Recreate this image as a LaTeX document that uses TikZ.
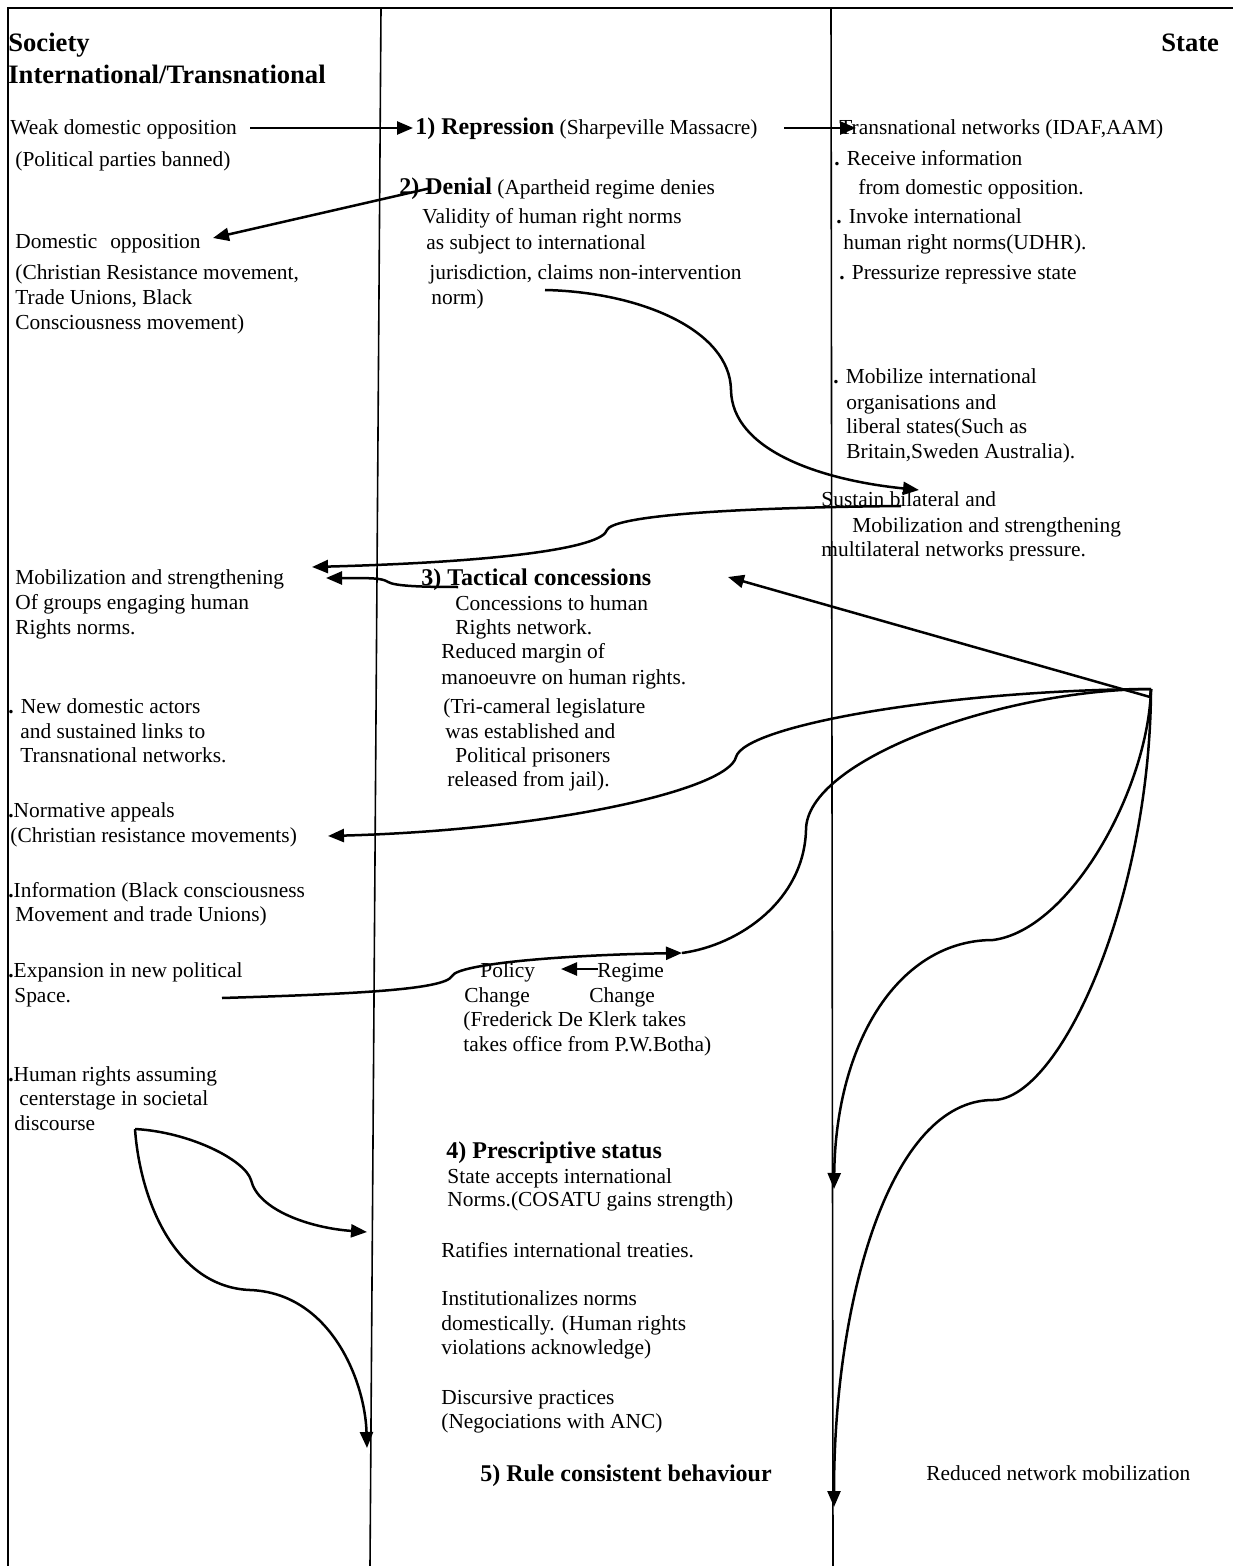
\documentclass[tikz,border=0pt]{standalone}
\usepackage{fontspec}
\setmainfont{Liberation Serif}
\usetikzlibrary{arrows.meta}
\tikzset{
  txt/.style={anchor=base west, inner sep=0pt, font=\fontsize{10.7}{12.5}\selectfont},
  bld/.style={txt, font=\fontsize{12}{14}\selectfont\bfseries},
  hd/.style={txt, font=\fontsize{13.3}{16}\selectfont\bfseries},
  frame/.style={line width=1pt},
  divider/.style={line width=0.8pt},
  conn/.style={line width=1.25pt},
  arr/.style={conn, -{Triangle[length=8pt,width=6.5pt]}}
}
\newcommand{\bdot}{{\bfseries .}}
\begin{document}
\begin{tikzpicture}[x=0.5pt,y=-0.5pt]
\useasboundingbox (0,0) rectangle (1233,1566);
% frame and dividers
\coordinate (tl) at (8,8);
\coordinate (tr) at (1233,8);
\coordinate (bl) at (8,1566);
\draw[frame] (bl) -- (tl) -- (tr);
\coordinate (d1t) at (381,8); \coordinate (d1b) at (370,1566);
\coordinate (d2t) at (831,8); \coordinate (d2b) at (833,1566);
\draw[divider] (d1t) -- (d1b);
\draw[divider] (d2t) -- (d2b);

% headings
\node[hd] (soc) at (8,52) {Society};
\node[hd] (intl) at (8,84) {International/Transnational};
\node[hd] (state) at (1161,52) {State};

% left column
\node[txt] (weak) at (10,135) {Weak domestic opposition};
\node[txt] (weak2) at (15,167) {(Political parties banned)};
\node[txt] (domop) at (15,249) {Domestic\hspace{0.6em}opposition};
\node[txt] (domop2) at (15,280) {(Christian Resistance movement,};
\node[txt] (domop3) at (15,305) {Trade Unions, Black};
\node[txt] (domop4) at (15,330) {Consciousness movement)};
\node[txt] (mob1) at (15,584) {Mobilization and strengthening};
\node[txt] (mob2) at (15,609) {Of groups engaging human};
\node[txt] (mob3) at (15,634) {Rights norms.};
\node[txt] (new1) at (8,713) {\bdot{} New domestic actors};
\node[txt] (new2) at (20,738) {and sustained links to};
\node[txt] (new3) at (20,762) {Transnational networks.};
\node[txt] (norm1) at (8,817) {\bdot Normative appeals};
\node[txt] (norm2) at (10,842) {(Christian resistance movements)};
\node[txt] (info1) at (8,897) {\bdot Information (Black consciousness};
\node[txt] (info2) at (15,921) {Movement and trade Unions)};
\node[txt] (exp1) at (8,977) {\bdot Expansion in new political};
\node[txt] (exp2) at (14,1002) {Space.};
\node[txt] (hr1) at (8,1081) {\bdot Human rights assuming};
\node[txt] (hr2) at (19,1105) {centerstage in societal};
\node[txt] (hr3) at (14,1130) {discourse};

% middle column
\node[txt] (rep) at (415,135) {{\fontsize{12}{14}\selectfont\bfseries 1) Repression} (Sharpeville Massacre)};
\node[txt] (den) at (399,195) {{\fontsize{12}{14}\selectfont\bfseries 2) Denial} (Apartheid regime denies};
\node[txt] (den2) at (422,224) {Validity of human right norms};
\node[txt] (den3) at (426,250) {as subject to international};
\node[txt] (den4) at (429,280) {jurisdiction, claims non-intervention};
\node[txt] (den5) at (431,305) {norm)};
\node[bld] (tac) at (421,585) {3) Tactical concessions};
\node[txt] (tac2) at (455,610) {Concessions to human};
\node[txt] (tac3) at (455,634) {Rights network.};
\node[txt] (tac4) at (441,658) {Reduced margin of};
\node[txt] (tac5) at (441,684) {manoeuvre on human rights.};
\node[txt] (tac6) at (443,713) {(Tri-cameral legislature};
\node[txt] (tac7) at (445,738) {was established and};
\node[txt] (tac8) at (455,762) {Political prisoners};
\node[txt] (tac9) at (447,786) {released from jail).};
\node[txt] (pol1) at (480,977) {Policy};
\node[txt] (reg1) at (597,977) {Regime};
\node[txt] (pol2) at (464,1002) {Change};
\node[txt] (reg2) at (589,1002) {Change};
\node[txt] (fdk1) at (463,1026) {(Frederick De Klerk takes};
\node[txt] (fdk2) at (463,1051) {takes office from P.W.Botha)};
\node[bld] (pre) at (446,1158) {4) Prescriptive status};
\node[txt] (pre2) at (447,1183) {State accepts international};
\node[txt] (pre3) at (447,1206) {Norms.(COSATU gains strength)};
\node[txt] (pre4) at (441,1257) {Ratifies international treaties.};
\node[txt] (pre5) at (441,1305) {Institutionalizes norms};
\node[txt] (pre6) at (441,1330) {domestically. (Human rights};
\node[txt] (pre7) at (441,1354) {violations acknowledge)};
\node[txt] (pre8) at (441,1404) {Discursive practices};
\node[txt] (pre9) at (441,1428) {(Negociations with ANC)};
\node[bld] (rule) at (480,1481) {5) Rule consistent behaviour};

% right column
\node[txt] (tn) at (839,135) {Transnational networks (IDAF,AAM)};
\node[txt] (tn2) at (834,166) {\bdot{} Receive information};
\node[txt] (tn3) at (858,195) {from domestic opposition.};
\node[txt] (tn4) at (836,224) {\bdot{} Invoke international};
\node[txt] (tn5) at (843,250) {human right norms(UDHR).};
\node[txt] (tn6) at (839,280) {\bdot{} Pressurize repressive state};
\node[txt] (mi1) at (833,384) {\bdot{} Mobilize international};
\node[txt] (mi2) at (846,410) {organisations and};
\node[txt] (mi3) at (846,434) {liberal states(Such as};
\node[txt] (mi4) at (846,459) {Britain,Sweden Australia).};
\node[txt] (sb1) at (821,507) {Sustain bilateral and};
\node[txt] (sb2) at (852,532) {Mobilization and strengthening};
\node[txt] (sb3) at (821,556) {multilateral networks pressure.};
\node[txt] (red) at (926,1480) {Reduced network mobilization};

% connector end points
\coordinate (a1s) at (250,128); \coordinate (a1e) at (413,128);
\coordinate (a2s) at (784,128); \coordinate (a2e) at (856,128);
\coordinate (a3s) at (431,188); \coordinate (a3e) at (213,238);
\coordinate (a4s) at (545,290); \coordinate (a4e) at (919,490);
\coordinate (a5s) at (901,506); \coordinate (a5e) at (312,567);
\coordinate (a6s) at (458,587); \coordinate (a6e) at (326,578);
\coordinate (hub) at (1151,689);
\coordinate (a7s) at (1150,697); \coordinate (a7e) at (728,577);
\coordinate (c1e) at (328,836);
\coordinate (c2e) at (682,953);
\coordinate (c3e) at (834,1189);
\coordinate (c4e) at (834,1507);
\coordinate (exs) at (222,998);
\coordinate (rps) at (598,969); \coordinate (rpe) at (561,969);
\coordinate (hrs) at (135,1129);
\coordinate (hae) at (367,1232);
\coordinate (hbe) at (367,1448);

% connectors
\draw[arr] (a1s) -- (a1e);
\draw[arr] (a2s) -- (a2e);
\draw[arr] (a3s) -- (a3e);
\draw[arr] (a4s) .. controls (640,292) and (730,330) .. (731,390)
                 .. controls (732,450) and (820,480) .. (a4e);
\draw[arr] (a5s) .. controls (700,508) and (612,518) .. (607,530)
                 .. controls (602,548) and (500,562) .. (a5e);
\draw[arr] (a6s) .. controls (420,587) and (395,586) .. (388,582)
                 .. controls (382,578) and (372,578) .. (a6e);
\draw[arr] (a7s) -- (a7e);
\draw[conn] (a7s) -- (hub);
\draw[arr] (hub) .. controls (950,690) and (745,725) .. (736,757)
                 .. controls (728,790) and (550,830) .. (c1e);
\draw[conn] (hub) .. controls (1000,690) and (806,760) .. (806,830)
                 .. controls (804,900) and (740,945) .. (c2e);
\draw[arr] (hub) .. controls (1148,790) and (1070,930) .. (993,940)
                 .. controls (900,940) and (836,1040) .. (c3e);
\draw[arr] (hub) .. controls (1150,900) and (1060,1100) .. (993,1100)
                 .. controls (890,1100) and (834,1300) .. (c4e);
\draw[arr] (exs) .. controls (350,994) and (445,990) .. (452,976)
                 .. controls (458,964) and (560,955) .. (c2e);
\draw[arr] (rps) -- (rpe);
\draw[arr] (hrs) .. controls (190,1132) and (245,1160) .. (251,1180)
                 .. controls (258,1210) and (310,1228) .. (hae);
\draw[arr] (hrs) .. controls (140,1200) and (175,1287) .. (250,1290)
                 .. controls (330,1293) and (365,1380) .. (hbe);
\end{tikzpicture}
\end{document}
